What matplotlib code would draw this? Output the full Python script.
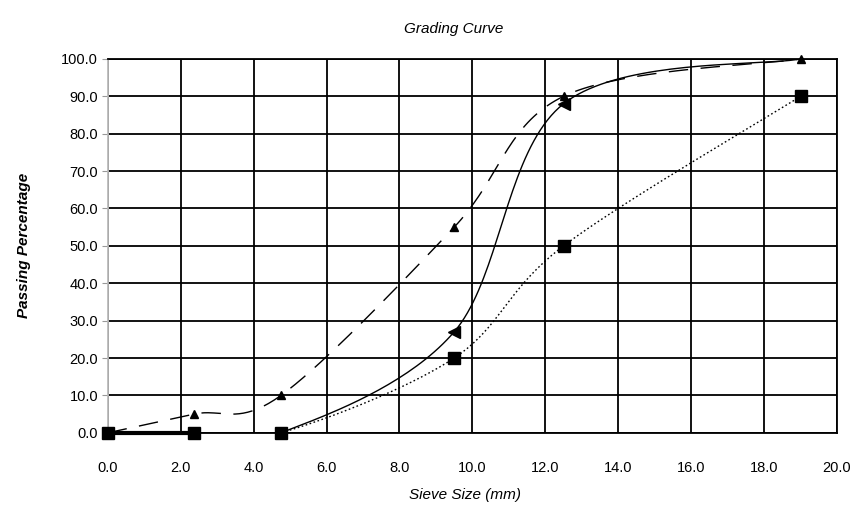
import numpy as np
import matplotlib.pyplot as plt

# sieve sizes (mm) and passing percentages
sieve = [0.0, 2.36, 4.75, 9.5, 12.5, 19.0]
passing_solid = [0.0, 0.0, 0.0, 27.0, 88.0, 100.0]
passing_dashed = [0.0, 5.0, 10.0, 55.0, 90.0, 100.0]
passing_dotted = [0.0, 0.0, 0.0, 20.0, 50.0, 90.0]

x_ticks = np.arange(0, 20.1, 2.0)
y_ticks = np.arange(0, 100.1, 10.0)

plt.rcParams['font.family'] = ['Liberation Sans', 'DejaVu Sans']


def smooth(x, y, n=40):
    # Catmull-Rom style smoothing, like a spreadsheet "smoothed line"
    p = np.column_stack([x, y]).astype(float)
    p = np.vstack([p[0], p, p[-1]])
    out = []
    t = np.linspace(0, 1, n)[:, None]
    for i in range(1, len(p) - 2):
        p0, p1, p2, p3 = p[i - 1], p[i], p[i + 1], p[i + 2]
        c1 = p1 + (p2 - p0) / 6.0
        c2 = p2 - (p3 - p1) / 6.0
        seg = ((1 - t) ** 3) * p1 + 3 * ((1 - t) ** 2) * t * c1 \
            + 3 * (1 - t) * t ** 2 * c2 + t ** 3 * p2
        out.append(seg)
    seg = np.vstack(out)
    return seg[:, 0], seg[:, 1]


fig, ax = plt.subplots(figsize=(8.55, 5.08), dpi=100)
fig.subplots_adjust(left=0.126, right=0.979, top=0.884, bottom=0.148)

sx, sy = smooth(sieve, passing_solid)
ax.plot(sx, sy, color='black', lw=1.0, zorder=3)
ax.plot(sieve[3:5], passing_solid[3:5], ls='none', marker='<', ms=8,
        color='black', zorder=4)

dx, dy = smooth(sieve, passing_dashed)
ax.plot(dx, dy, color='black', lw=1.0, dashes=(14, 9), zorder=3)
ax.plot(sieve[1:], passing_dashed[1:], ls='none', marker='^', ms=6,
        color='black', zorder=4, clip_on=False)

ox, oy = smooth(sieve, passing_dotted)
ax.plot(ox, oy, color='black', lw=1.0, dashes=(1.2, 1.8), zorder=3)
ax.plot(sieve[:2], passing_dotted[:2], color='black', lw=3, zorder=3,
        clip_on=False)
ax.plot(sieve, passing_dotted, ls='none', marker='s', ms=8,
        color='black', zorder=4, clip_on=False)

ax.set_xlim(0, 20)
ax.set_ylim(0, 100)
ax.set_xticks(x_ticks)
ax.set_yticks(y_ticks)
ax.set_xticklabels(['%.1f' % v for v in x_ticks], fontsize=10.5)
ax.set_yticklabels(['%.1f' % v for v in y_ticks], fontsize=10.5)
ax.tick_params(axis='x', length=0, pad=20)
ax.tick_params(axis='y', length=4, color='#999999', pad=3)
ax.grid(True, color='black', lw=1.3)
ax.set_axisbelow(True)

for side in ['top', 'right', 'bottom']:
    ax.spines[side].set_color('black')
    ax.spines[side].set_linewidth(1.3)
ax.spines['left'].set_color('#bbbbbb')
ax.spines['left'].set_linewidth(1.3)
ax.spines['left'].set_zorder(2.5)

ax.set_title('Grading Curve', fontsize=11, style='italic', pad=19, x=0.474)
ax.set_xlabel('Sieve Size (mm)', fontsize=11, style='italic', labelpad=10,
              x=0.49)
ax.set_ylabel('Passing Percentage', fontsize=11, style='italic',
              weight='bold', labelpad=22)

fig.savefig('out.png', dpi=100)
